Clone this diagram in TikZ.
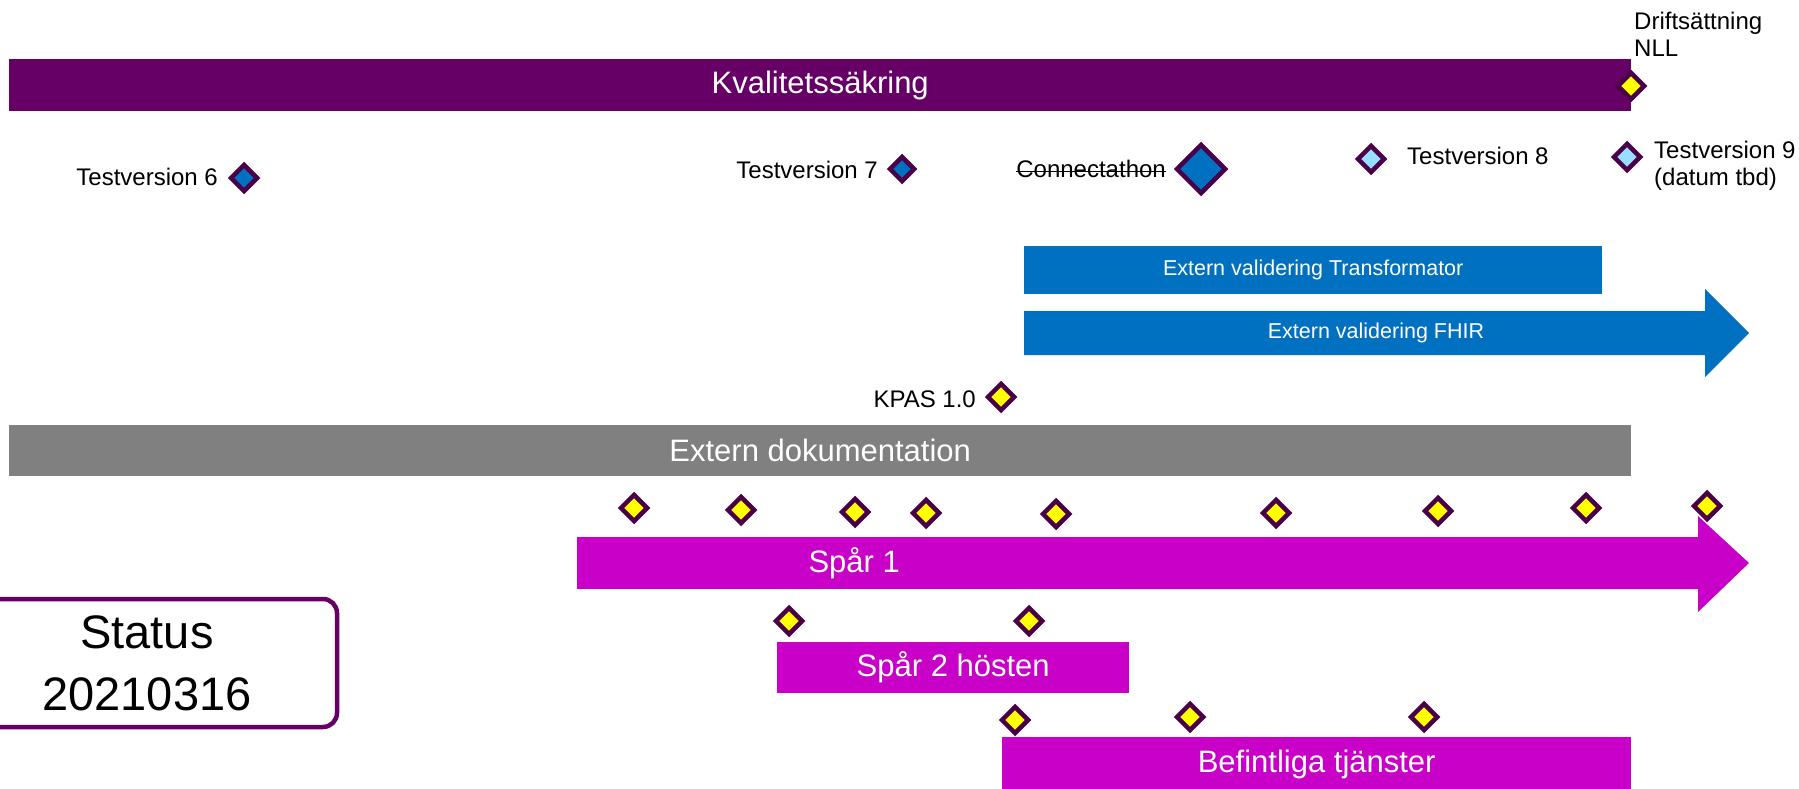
\documentclass[tikz,border=0pt]{standalone}
\usepackage{fontspec}
\setmainfont{Liberation Sans}
\usetikzlibrary{shapes.geometric}
\definecolor{kpurple}{HTML}{660066}
\definecolor{dpurple}{HTML}{4A0048}
\definecolor{kblue}{HTML}{0070C0}
\definecolor{lblue}{HTML}{99DDFF}
\definecolor{kmag}{HTML}{C800C8}
\definecolor{kgray}{HTML}{808080}
\definecolor{kyellow}{HTML}{FFFF00}
\tikzset{
  ms/.style={diamond, draw=dpurple, line width=4.5pt, inner sep=0pt, minimum width=#1, minimum height=#1},
  ms/.default=28,
  ylw/.style={ms, fill=kyellow},
  blu/.style={ms=#1, fill=kblue},
  blu/.default=28,
  lbl/.style={ms, fill=lblue},
  bigfont/.style={font=\fontsize{31}{37}\selectfont},
  midfont/.style={font=\fontsize{24}{27}\selectfont},
  smallfont/.style={font=\fontsize{21.5}{26}\selectfont},
  barbox/.style={anchor=north west, inner sep=0pt, text=white},
  lab/.style={inner sep=0pt, text=black, midfont},
}
\begin{document}
\begin{tikzpicture}[x=1pt,y=-1pt]
\clip (0,0) rectangle (1799,789);
\fill[white] (0,0) rectangle (1799,789);

% bars
\node[barbox, fill=kpurple, bigfont, minimum width=1622, minimum height=52] (kval) at (9,59) {Kvalitetss\"akring};
\node[barbox, fill=kgray, bigfont, minimum width=1622, minimum height=51] (extdok) at (9,425) {Extern dokumentation};
\node[barbox, fill=kblue, smallfont, minimum width=578, minimum height=48] (transf) at (1024,246) {Extern validering Transformator};

% FHIR arrow
\fill[kblue] (1024,311) -- (1705,311) -- (1705,289) -- (1749,333) -- (1705,377) -- (1705,355) -- (1024,355) -- cycle;
\node[inner sep=0pt, text=white, smallfont] (fhir) at (1376,333) {Extern validering FHIR};

% Spar 1 arrow
\fill[kmag] (1120,537) -- (1698,537) -- (1698,516) -- (1749,563) -- (1698,612) -- (1698,589) -- (1120,589) -- cycle;
\node[barbox, fill=kmag, bigfont, minimum width=554, minimum height=52] (spar1) at (577,537) {Sp\aa r 1};

\node[barbox, fill=kmag, bigfont, minimum width=352, minimum height=51] (spar2) at (777,642) {Sp\aa r 2 h\"osten};
\node[barbox, fill=kmag, bigfont, minimum width=629, minimum height=54] (befint) at (1002,737) {Befintliga tj\"anster};

% Status box
\node[draw=kpurple, line width=4.5pt, rounded corners=14pt, minimum width=380, minimum height=128, align=center, inner sep=0pt, font=\fontsize{47}{62}\selectfont] (status) at (147,663) {Status\\20210316};

% labels
\node[lab, anchor=north west, align=left] (drift) at (1634,12) {Drifts\"attning\\NLL};
\node[lab, anchor=east] (tv6l) at (218,177) {Testversion 6};
\node[lab, anchor=east] (tv7l) at (878,170) {Testversion 7};
\node[lab, anchor=base east] (connl) at (1166,178) {Connectathon};
\draw[line width=1.3pt] ([yshift=6.6pt]connl.base west) -- ([yshift=6.6pt]connl.base east);
\node[lab, anchor=west] (tv8l) at (1407,156) {Testversion 8};
\node[lab, anchor=north west, align=left] (tv9l) at (1654,141) {Testversion 9\\(datum tbd)};
\node[lab, anchor=east] (kpasl) at (976,399) {KPAS 1.0};

% diamonds
\node[ylw] (drift-d) at (1631,86) {};
\node[blu] (tv6) at (244,178) {};
\node[blu=26] (tv7) at (902,169) {};
\node[blu=50] (conn) at (1201,169) {};
\node[lbl] (tv8) at (1371,159) {};
\node[lbl] (tv9) at (1627,157) {};
\node[ylw] (kpas) at (1001,397) {};

\node[ylw] (s1a) at (634,508) {};
\node[ylw] (s1b) at (741,510) {};
\node[ylw] (s1c) at (855,512) {};
\node[ylw] (s1d) at (926,513) {};
\node[ylw] (s1e) at (1056,514) {};
\node[ylw] (s1f) at (1276,513) {};
\node[ylw] (s1g) at (1438,511) {};
\node[ylw] (s1h) at (1586,508) {};
\node[ylw] (s1i) at (1707,506) {};

\node[ylw] (s2a) at (789,621) {};
\node[ylw] (s2b) at (1029,621) {};

\node[ylw] (bta) at (1015,720) {};
\node[ylw] (btb) at (1190,717) {};
\node[ylw] (btc) at (1424,717) {};
\end{tikzpicture}
\end{document}
